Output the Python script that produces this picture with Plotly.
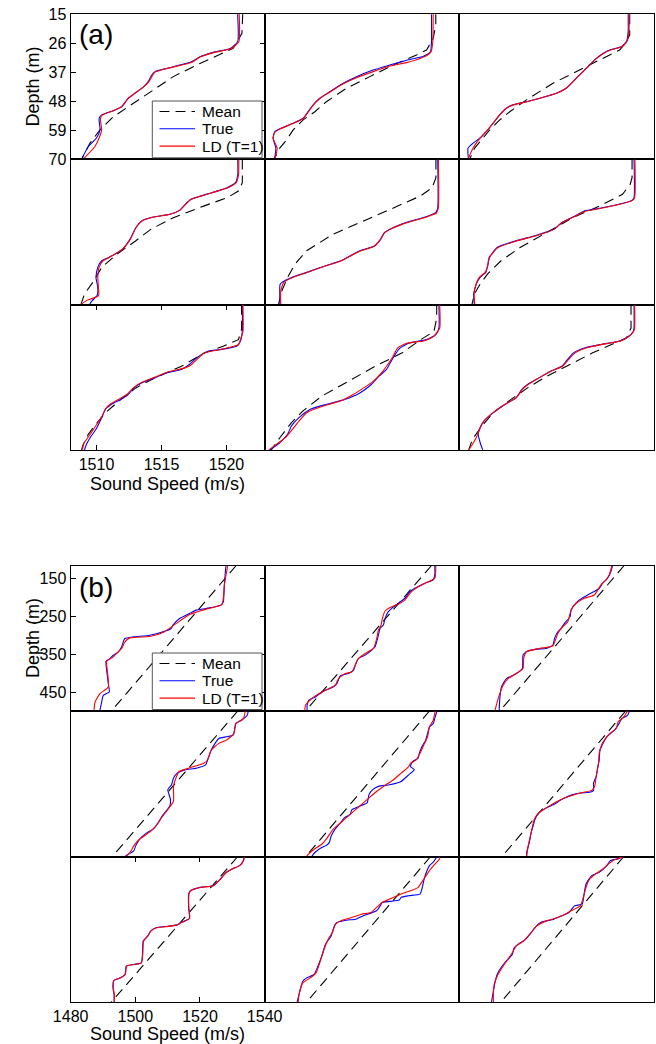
import plotly.graph_objects as go

# ---------------------------------------------------------------------------
# Sound-speed profiles, (depth [m], sound speed [m/s]) pairs.
# Part (a): shallow profiles, part (b): deep profiles; 3x3 panels each.
# ---------------------------------------------------------------------------

A_XTICKS = [1510, 1515, 1520]
A_YTICKS = [15, 26, 37, 48, 59, 70]
B_XTICKS = [1480, 1500, 1520, 1540]
B_YTICKS = [150, 250, 350, 450]
SERIES_NAMES = ["Mean", "True", "LD (T=1)"]

A1_MEAN = [(15, 1521.25), (22.3, 1521.19), (28.0, 1520.52), (33.7, 1517.96), (38.7, 1515.91), (46.3, 1513.6),
           (53.9, 1511.3), (58.9, 1510.27), (63.9, 1509.5), (70, 1508.86)]
A1_TRUE = [(15, 1520.86), (25.5, 1520.86), (28.0, 1520.3), (29.5, 1518.98), (31.2, 1517.96), (33.1, 1517.32),
           (35.6, 1515.4), (36.8, 1514.5), (38.1, 1514.25), (40.6, 1513.98), (42.7, 1513.6), (45.0, 1512.96),
           (46.9, 1512.45), (50.1, 1511.94), (51.6, 1511.3), (53.2, 1510.4), (54.5, 1510.2), (58.9, 1510.27),
           (62.0, 1510.0), (65.2, 1509.37), (70, 1508.86)]
A1_LD = [(15, 1520.98), (25.5, 1520.95), (28.0, 1520.35), (29.6, 1519.0), (31.3, 1517.96), (33.3, 1517.3),
         (35.7, 1515.35), (37.0, 1514.5), (38.3, 1514.3), (40.8, 1514.0), (42.9, 1513.55), (45.2, 1512.9),
         (47.1, 1512.4), (50.2, 1511.9), (51.7, 1511.25), (53.3, 1510.45), (54.6, 1510.3), (58.9, 1510.4),
         (62.0, 1510.2), (65.2, 1509.88), (70, 1508.98)]

A2_MEAN = [(15, 1521.15), (19.2, 1521.15), (24.2, 1520.95), (28.6, 1520.44), (30.5, 1519.67), (34.3, 1517.87),
           (38.7, 1516.08), (43.1, 1514.28), (48.2, 1512.74), (52.0, 1511.85), (55.1, 1510.95), (58.9, 1510.18),
           (62.7, 1509.67), (65.8, 1509.15), (70, 1508.72)]
A2_TRUE = [(15, 1520.82), (25.5, 1520.82), (29.3, 1520.74), (31.0, 1520.2), (32.5, 1518.9), (34.3, 1517.62),
           (36.2, 1516.33), (38.7, 1515.05), (41.2, 1514.03), (44.4, 1513.0), (46.9, 1512.23), (49.4, 1511.72),
           (52.0, 1511.33), (54.5, 1510.95), (56.4, 1510.18), (58.5, 1509.15), (59.5, 1508.77), (62.1, 1508.64),
           (65.8, 1508.85), (70, 1508.75)]
A2_LD = [(15, 1520.95), (25.5, 1520.92), (29.3, 1520.78), (31.4, 1520.15), (33.4, 1518.9), (34.7, 1517.62),
         (36.8, 1516.33), (39.1, 1515.05), (41.5, 1514.0), (44.6, 1513.0), (47.0, 1512.23), (49.5, 1511.72),
         (52.0, 1511.35), (54.6, 1510.95), (56.6, 1510.1), (58.7, 1509.1), (60.0, 1508.75), (62.1, 1508.64),
         (65.8, 1508.95), (70, 1508.77)]

A3_MEAN = [(15, 1521.12), (22.9, 1521.12), (25.5, 1520.86), (28.6, 1520.35), (33.0, 1518.55), (37.5, 1516.76),
           (41.2, 1515.22), (47.5, 1513.17), (52.0, 1511.89), (55.1, 1511.12), (58.9, 1510.35), (62.7, 1509.71),
           (65.8, 1509.19), (70, 1508.81)]
A3_TRUE = [(15, 1521.0), (21.7, 1521.0), (25.5, 1520.86), (27.4, 1520.47), (28.6, 1519.58), (29.9, 1519.06),
           (31.8, 1518.55), (34.3, 1518.04), (36.8, 1517.53), (39.3, 1517.01), (43.1, 1516.24), (45.0, 1515.48),
           (46.9, 1514.19), (48.2, 1513.17), (49.4, 1512.14), (50.7, 1511.63), (53.2, 1511.12), (56.4, 1510.6),
           (59.5, 1510.09), (62.1, 1509.58), (63.9, 1509.07), (65.8, 1508.68), (68.4, 1508.68), (70, 1508.72)]
A3_LD = [(15, 1521.08), (21.7, 1521.06), (25.5, 1520.9), (27.4, 1520.5), (28.7, 1519.6), (30.0, 1519.06),
         (31.9, 1518.55), (34.4, 1518.0), (36.9, 1517.5), (39.4, 1517.0), (43.2, 1516.2), (45.2, 1515.4),
         (47.0, 1514.15), (48.3, 1513.15), (49.5, 1512.1), (50.8, 1511.6), (53.3, 1511.1), (56.4, 1510.6),
         (59.5, 1510.09), (62.1, 1509.58), (65.8, 1509.07), (70, 1508.68)]

A4_MEAN = [(15, 1521.22), (23.8, 1521.22), (27.0, 1520.92), (29.5, 1520.05), (32.6, 1518.29), (37.0, 1515.95),
           (41.4, 1514.2), (45.8, 1513.03), (50.9, 1511.57), (55.9, 1510.4), (60.9, 1509.81), (66.0, 1509.08),
           (70, 1508.8)]
A4_TRUE = [(15, 1520.87), (20.7, 1520.87), (23.8, 1520.69), (25.7, 1520.05), (27.6, 1518.88), (30.1, 1517.27),
           (32.0, 1516.83), (34.3, 1516.39), (35.8, 1515.66), (37.0, 1514.2), (38.3, 1513.47), (40.8, 1513.03),
           (45.2, 1512.59), (49.0, 1512.0), (52.1, 1510.98), (53.4, 1510.4), (55.9, 1510.1), (59.7, 1509.96),
           (63.5, 1510.1), (66.6, 1510.05), (68.5, 1509.67), (70, 1509.46)]
A4_LD = [(15, 1520.95), (20.7, 1520.93), (23.8, 1520.75), (25.7, 1520.1), (27.6, 1518.9), (30.1, 1517.3),
         (32.0, 1516.85), (34.3, 1516.4), (35.8, 1515.66), (37.0, 1514.25), (38.3, 1513.5), (40.8, 1513.05),
         (45.2, 1512.6), (49.0, 1512.0), (52.1, 1511.0), (53.4, 1510.5), (55.9, 1510.2), (59.7, 1510.1),
         (63.5, 1510.15), (66.6, 1510.16), (68.5, 1509.23), (70, 1508.79)]

A5_MEAN = [(15, 1521.16), (21.9, 1521.16), (25.7, 1520.87), (28.8, 1519.99), (33.9, 1517.65), (38.3, 1515.6),
           (43.3, 1513.26), (49.6, 1511.22), (54.6, 1510.34), (59.7, 1509.75), (64.7, 1509.32), (70, 1509.05)]
A5_TRUE = [(15, 1521.3), (33.3, 1521.3), (35.1, 1521.16), (36.4, 1520.57), (39.5, 1518.53), (41.4, 1517.65),
           (42.7, 1517.21), (45.2, 1516.92), (47.7, 1516.48), (49.6, 1515.31), (53.4, 1513.85), (55.3, 1512.68),
           (57.8, 1511.22), (59.7, 1510.05), (61.6, 1509.32), (62.5, 1509.17), (70, 1509.17)]
A5_LD = [(15, 1521.35), (33.3, 1521.35), (35.3, 1521.2), (36.6, 1520.55), (39.7, 1518.5), (41.6, 1517.6),
         (43.0, 1517.15), (45.4, 1516.88), (47.9, 1516.4), (49.9, 1515.25), (53.6, 1513.8), (55.5, 1512.6),
         (58.0, 1511.15), (59.9, 1510.05), (61.6, 1509.46), (64.7, 1509.23), (70, 1509.23)]

A6_MEAN = [(15, 1521.3), (21.9, 1521.3), (24.4, 1521.16), (28.2, 1520.57), (32.6, 1518.82), (37.0, 1516.77),
           (42.7, 1514.73), (48.4, 1512.68), (53.4, 1511.22), (58.4, 1510.19), (62.2, 1509.61), (66.0, 1509.17),
           (70, 1508.98)]
A6_TRUE = [(15, 1521.45), (29.5, 1521.45), (30.5, 1521.3), (32.0, 1520.28), (33.5, 1518.82), (34.5, 1517.65),
           (36.4, 1516.92), (38.9, 1515.9), (41.4, 1515.31), (43.9, 1513.85), (45.8, 1512.39), (48.4, 1510.92),
           (52.1, 1510.34), (55.3, 1510.19), (57.8, 1510.05), (59.7, 1509.61), (62.2, 1509.32), (66.0, 1509.11),
           (70, 1509.17)]
A6_LD = [(15, 1521.52), (29.5, 1521.5), (30.6, 1521.3), (32.2, 1520.2), (33.7, 1518.75), (34.8, 1517.6),
         (36.6, 1516.9), (39.0, 1515.9), (41.5, 1515.3), (44.0, 1513.85), (45.9, 1512.4), (48.5, 1510.95),
         (52.2, 1510.3), (55.3, 1510.19), (57.8, 1510.0), (59.7, 1509.55), (62.2, 1509.3), (66.0, 1509.15),
         (70, 1509.2)]

A7_MEAN = [(15, 1521.16), (24.4, 1521.16), (28.2, 1520.92), (30.7, 1519.75), (33.3, 1518.29), (38.3, 1516.54),
           (42.7, 1514.49), (46.5, 1513.03), (50.9, 1511.86), (55.9, 1510.69), (60.3, 1509.96), (64.1, 1509.37),
           (67.9, 1508.99), (70, 1508.85)]
A7_TRUE = [(15, 1521.22), (25.1, 1521.22), (28.8, 1521.07), (30.7, 1520.78), (32.0, 1519.46), (32.6, 1518.58),
           (35.1, 1517.71), (37.7, 1517.12), (39.5, 1516.54), (40.8, 1515.37), (42.7, 1514.49), (44.6, 1513.47),
           (46.5, 1512.88), (49.0, 1512.44), (50.9, 1511.86), (52.8, 1511.13), (54.6, 1510.69), (57.8, 1510.4),
           (62.2, 1509.96), (65.3, 1509.52), (67.9, 1509.23), (70, 1509.08)]
A7_LD = [(15, 1521.27), (25.1, 1521.27), (28.2, 1521.07), (30.1, 1520.92), (32.0, 1519.46), (33.3, 1518.29),
         (35.8, 1517.71), (37.7, 1517.3), (38.9, 1516.8), (40.5, 1515.5), (42.4, 1514.5), (44.4, 1513.5),
         (46.3, 1512.88), (48.7, 1512.4), (50.6, 1511.8), (52.5, 1511.1), (54.4, 1510.7), (57.5, 1510.4),
         (59.7, 1510.1), (64.1, 1509.52), (67.9, 1508.99), (70, 1508.94)]

A8_MEAN = [(15, 1521.22), (20.0, 1521.22), (25.1, 1521.01), (28.2, 1519.99), (33.3, 1518.53), (38.3, 1516.48),
           (44.0, 1514.43), (49.6, 1512.39), (55.3, 1510.92), (59.7, 1510.05), (65.3, 1509.17), (70, 1508.5)]
A8_TRUE = [(15, 1521.39), (23.8, 1521.39), (26.3, 1521.16), (28.2, 1520.43), (29.5, 1519.11), (31.4, 1518.38),
           (34.5, 1517.94), (37.0, 1517.65), (39.5, 1517.36), (42.1, 1516.77), (45.2, 1516.19), (48.4, 1515.31),
           (50.9, 1514.14), (52.8, 1512.68), (54.6, 1511.51), (57.8, 1510.63), (60.9, 1510.05), (64.1, 1509.75),
           (67.2, 1509.17), (70, 1508.4)]
A8_LD = [(15, 1521.45), (23.8, 1521.45), (26.9, 1521.0), (28.6, 1520.28), (29.5, 1518.97), (31.4, 1518.2),
         (35.1, 1517.8), (38.3, 1517.36), (40.2, 1517.07), (44.0, 1516.33), (46.5, 1515.6), (49.0, 1514.8),
         (51.5, 1513.8), (53.4, 1512.5), (55.9, 1511.22), (59.1, 1510.63), (65.3, 1509.6), (67.9, 1508.9),
         (70, 1508.3)]

A9_MEAN = [(15, 1521.22), (23.8, 1521.22), (27.6, 1520.87), (30.1, 1519.7), (33.3, 1518.23), (37.7, 1516.48),
           (42.1, 1514.73), (46.5, 1513.26), (51.5, 1511.8), (55.9, 1510.63), (60.9, 1509.75), (66.0, 1509.02),
           (70, 1508.73)]
A9_TRUE = [(15, 1521.45), (23.8, 1521.45), (25.1, 1521.39), (27.0, 1521.01), (28.8, 1520.28), (30.1, 1518.82),
           (31.4, 1517.65), (33.3, 1516.77), (35.8, 1516.33), (38.3, 1515.9), (40.2, 1515.02), (42.7, 1514.14),
           (45.2, 1513.26), (47.1, 1512.82), (50.2, 1512.39), (52.8, 1511.51), (55.9, 1510.63), (59.1, 1509.9),
           (61.6, 1509.61), (64.1, 1509.46), (67.2, 1509.61), (70, 1509.81)]
A9_LD = [(15, 1521.5), (23.8, 1521.5), (25.1, 1521.42), (27.0, 1521.05), (28.8, 1520.35), (30.1, 1518.9),
         (31.4, 1517.75), (33.3, 1516.9), (35.8, 1516.4), (38.3, 1515.95), (40.2, 1515.05), (42.7, 1514.15),
         (45.2, 1513.3), (47.1, 1512.85), (50.2, 1512.4), (52.8, 1511.5), (55.9, 1510.6), (59.1, 1509.9),
         (61.6, 1509.61), (65.3, 1509.32), (67.9, 1509.02), (70, 1508.73)]

B1_MEAN = [(117, 1531.2), (291, 1513.6), (499, 1492.6)]
B1_TRUE = [(117, 1528.05), (133.3, 1527.85), (168.4, 1527.54), (212.3, 1527.23), (221.0, 1526.52), (229.8, 1521.9),
           (234.2, 1518.82), (243.0, 1516.77), (256.1, 1513.7), (273.7, 1511.64), (282.4, 1511.13), (291.2, 1508.57),
           (300.0, 1504.47), (304.4, 1499.34), (308.7, 1496.77), (317.5, 1496.26), (330.7, 1495.75), (343.8, 1494.72),
           (352.6, 1493.18), (361.4, 1492.16), (368.4, 1490.92), (392.0, 1491.13), (427.1, 1491.64), (449.1, 1491.95),
           (457.8, 1490.1), (475.4, 1489.59), (499, 1489.0)]
B1_LD = [(117, 1528.57), (168.4, 1527.54), (219.3, 1526.8), (231.6, 1521.9), (245.6, 1516.77), (275.4, 1511.64),
         (293.0, 1508.57), (303.5, 1504.47), (307.0, 1498.31), (317.5, 1496.77), (335.0, 1495.75), (348.2, 1494.21),
         (357.0, 1493.18), (368.4, 1491.13), (392.0, 1491.33), (435.9, 1491.64), (453.4, 1489.08), (475.4, 1487.54),
         (499, 1487.2)]

B2_MEAN = [(117, 1531.49), (499, 1492.51)]
B2_TRUE = [(117, 1532.51), (141.6, 1532.51), (154.8, 1532.0), (163.5, 1529.44), (176.7, 1526.36), (185.5, 1524.82),
           (203.0, 1523.28), (216.2, 1521.23), (229.4, 1519.18), (238.2, 1518.15), (255.7, 1517.13), (273.3, 1516.62),
           (282.1, 1515.59), (299.6, 1515.08), (330.4, 1514.05), (339.1, 1513.03), (352.3, 1510.97), (361.1, 1508.92),
           (374.3, 1508.1), (391.8, 1507.38), (400.6, 1505.85), (406.7, 1503.28), (426.9, 1502.26), (435.7, 1501.23),
           (448.9, 1497.64), (462.0, 1495.59), (470.8, 1493.54), (484.0, 1493.03), (499, 1493.03)]
B2_LD = [(117, 1532.82), (150.4, 1532.51), (163.5, 1529.44), (178.5, 1526.36), (189.9, 1524.82), (207.4, 1523.28),
         (218.8, 1521.23), (225.0, 1519.18), (236.4, 1517.13), (255.7, 1516.31), (273.3, 1515.9), (286.5, 1515.08),
         (308.4, 1514.56), (334.7, 1513.54), (347.9, 1510.97), (361.1, 1508.92), (378.6, 1507.9), (396.2, 1506.87),
         (400.6, 1504.82), (413.8, 1502.77), (431.3, 1501.74), (444.5, 1498.67), (459.4, 1495.59), (473.5, 1493.54),
         (484.0, 1492.51), (499, 1492.31)]

B3_MEAN = [(117, 1530.97), (499, 1492.51)]
B3_TRUE = [(117, 1527.38), (132.8, 1526.87), (150.4, 1525.85), (163.5, 1524.31), (176.7, 1523.28), (185.5, 1521.74),
           (194.3, 1519.69), (207.4, 1517.13), (220.6, 1515.59), (233.8, 1514.56), (251.3, 1514.26), (268.9, 1512.51),
           (282.1, 1511.49), (290.8, 1510.46), (308.4, 1509.44), (326.0, 1508.92), (334.7, 1506.87), (336.5, 1503.79),
           (343.5, 1500.72), (352.3, 1499.69), (387.4, 1499.49), (400.6, 1497.64), (413.8, 1494.56), (435.7, 1493.03),
           (466.4, 1492.51), (499, 1492.31)]
B3_LD = [(117, 1527.18), (141.6, 1526.36), (154.8, 1525.33), (167.9, 1523.79), (194.3, 1521.74), (203.0, 1518.67),
         (216.2, 1516.1), (233.8, 1514.56), (264.5, 1513.54), (277.7, 1512.0), (295.2, 1510.46), (327.7, 1508.92),
         (334.7, 1504.82), (343.5, 1500.72), (361.1, 1499.9), (387.4, 1499.69), (400.6, 1497.64), (413.8, 1495.08),
         (431.3, 1493.54), (466.4, 1492.0), (499, 1490.97)]

B4_MEAN = [(117, 1531.68), (499, 1492.9)]
B4_TRUE = [(117, 1534.95), (128.3, 1534.6), (141.3, 1532.85), (150.0, 1531.09), (180.4, 1530.27), (184.7, 1528.17),
           (189.0, 1525.83), (202.1, 1524.66), (219.4, 1523.49), (241.1, 1522.56), (258.5, 1521.74), (267.2, 1518.82),
           (271.5, 1515.31), (280.2, 1512.97), (293.2, 1511.8), (310.6, 1511.22), (323.6, 1510.05), (349.6, 1510.87),
           (367.0, 1510.63), (393.0, 1508.29), (410.4, 1507.13), (427.7, 1505.37), (436.4, 1503.62), (453.8, 1501.28),
           (471.1, 1500.11), (484.2, 1499.53), (492.8, 1497.77), (499, 1496.84)]
B4_LD = [(117, 1534.02), (137.0, 1533.43), (150.0, 1531.09), (176.0, 1530.51), (193.4, 1528.17), (202.1, 1525.83),
         (219.4, 1523.49), (245.5, 1522.32), (254.1, 1521.16), (267.2, 1516.48), (275.8, 1513.56), (288.9, 1512.74),
         (314.9, 1511.8), (354.0, 1511.8), (375.7, 1510.05), (401.7, 1507.71), (423.4, 1505.96), (436.4, 1504.2),
         (453.8, 1501.28), (471.1, 1499.53), (488.5, 1498.36), (499, 1497.19)]

B5_MEAN = [(117, 1530.86), (499, 1492.63)]
B5_TRUE = [(117, 1533.2), (132.6, 1532.61), (150.0, 1532.03), (158.7, 1530.86), (176.0, 1530.27), (193.4, 1529.69),
           (210.7, 1528.52), (228.1, 1527.7), (241.1, 1527.35), (249.8, 1525.6), (262.8, 1525.01), (271.5, 1526.18),
           (284.5, 1524.43), (301.9, 1522.09), (310.6, 1518.58), (314.9, 1515.08), (323.6, 1513.32), (336.6, 1512.15),
           (358.3, 1511.57), (367.0, 1509.23), (375.7, 1506.89), (388.7, 1506.31), (397.4, 1504.55), (410.4, 1503.38),
           (427.7, 1501.63), (445.1, 1500.46), (462.5, 1499.88), (471.1, 1498.71), (475.5, 1497.54), (488.5, 1495.43),
           (497.2, 1494.61), (499, 1494.5)]
B5_LD = [(117, 1532.61), (141.3, 1532.03), (158.7, 1530.86), (184.7, 1530.27), (206.4, 1529.11), (228.1, 1527.94),
         (245.5, 1526.77), (254.1, 1525.01), (262.8, 1524.43), (280.2, 1522.09), (297.5, 1519.75), (310.6, 1517.41),
         (332.3, 1513.91), (349.6, 1511.57), (367.0, 1509.23), (393.0, 1505.72), (410.4, 1503.38), (427.7, 1501.05),
         (449.4, 1499.29), (466.8, 1497.54), (479.8, 1495.2), (492.8, 1493.45), (499, 1492.86)]

B6_MEAN = [(117, 1531.44), (499, 1493.2)]
B6_TRUE = [(117, 1532.61), (128.3, 1532.03), (137.0, 1530.27), (154.3, 1529.11), (167.3, 1527.94), (176.0, 1526.77),
           (184.7, 1525.6), (202.1, 1524.43), (219.4, 1523.49), (245.5, 1523.26), (271.5, 1522.67), (288.9, 1522.32),
           (306.2, 1521.51), (325.3, 1521.51), (330.5, 1520.34), (332.3, 1517.41), (336.6, 1515.08), (349.6, 1511.57),
           (362.6, 1509.23), (371.3, 1506.89), (384.3, 1504.55), (401.7, 1503.38), (419.1, 1502.8), (436.4, 1502.21),
           (462.5, 1501.63), (488.5, 1500.81), (499, 1500.81)]
B6_LD = [(117, 1532.03), (132.6, 1530.86), (145.6, 1529.11), (163.0, 1528.52), (174.3, 1526.77), (184.7, 1525.6),
         (202.1, 1524.2), (228.1, 1523.26), (254.1, 1523.03), (288.9, 1522.32), (314.9, 1521.86), (325.3, 1520.92),
         (332.3, 1517.41), (341.0, 1513.91), (354.0, 1510.4), (371.3, 1506.89), (384.3, 1504.55), (401.7, 1503.15),
         (436.4, 1502.21), (471.1, 1501.28), (499, 1500.81)]

B7_MEAN = [(117, 1531.68), (499, 1492.6)]
B7_TRUE = [(117, 1533.67), (127.6, 1533.43), (140.8, 1532.26), (149.6, 1529.92), (158.4, 1528.17), (180.4, 1525.83),
           (193.6, 1524.08), (198.0, 1519.99), (206.8, 1517.06), (215.6, 1516.48), (250.8, 1516.48), (279.8, 1516.71),
           (290.4, 1514.14), (296.5, 1512.97), (300.9, 1509.46), (303.6, 1506.54), (312.4, 1504.79), (325.6, 1503.85),
           (338.8, 1502.45), (374.0, 1502.21), (396.0, 1501.86), (400.4, 1499.53), (404.8, 1497.19), (426.8, 1496.84),
           (435.6, 1495.43), (442.6, 1493.33), (462.0, 1493.09), (479.6, 1493.45), (499, 1493.45)]
B7_LD = [(117, 1533.75), (127.6, 1533.5), (140.8, 1532.3), (149.6, 1530.0), (158.4, 1528.2), (180.4, 1525.9),
         (193.6, 1524.1), (198.5, 1520.0), (207.0, 1517.1), (215.6, 1516.6), (250.8, 1516.55), (279.8, 1516.8),
         (290.4, 1514.2), (296.5, 1513.0), (301.2, 1509.5), (303.8, 1506.6), (312.4, 1504.85), (325.6, 1503.9),
         (338.8, 1502.55), (374.0, 1502.3), (396.0, 1501.9), (400.6, 1499.6), (404.8, 1497.3), (426.8, 1496.9),
         (435.6, 1495.5), (442.6, 1493.4), (462.0, 1493.2), (479.6, 1493.5), (499, 1493.5)]

B8_MEAN = [(117, 1531.21), (499, 1492.9)]
B8_TRUE = [(117, 1533.2), (132.0, 1532.03), (140.8, 1530.86), (162.8, 1529.69), (180.4, 1529.11), (202.4, 1528.52),
           (215.6, 1527.94), (220.0, 1524.43), (224.4, 1522.09), (231.4, 1521.51), (234.9, 1518.58), (237.6, 1516.24),
           (246.4, 1515.66), (259.6, 1514.49), (272.8, 1510.4), (281.6, 1508.06), (284.2, 1505.14), (290.4, 1502.21),
           (303.6, 1501.28), (325.6, 1500.46), (347.6, 1498.71), (378.4, 1497.54), (404.8, 1496.37), (426.8, 1495.2),
           (435.6, 1492.86), (444.4, 1491.69), (479.6, 1490.52), (499, 1489.94)]
B8_LD = [(117, 1533.9), (123.2, 1534.02), (136.4, 1532.61), (154.0, 1530.86), (176.0, 1529.11), (198.0, 1527.35),
         (205.0, 1525.6), (215.6, 1522.09), (228.8, 1518.58), (237.6, 1516.24), (250.8, 1514.49), (264.0, 1512.74),
         (268.4, 1509.81), (277.2, 1506.89), (286.0, 1503.38), (296.5, 1501.63), (312.4, 1501.05), (338.8, 1499.29),
         (365.2, 1498.12), (396.0, 1496.95), (422.4, 1495.78), (435.6, 1494.03), (448.8, 1491.69), (479.6, 1490.52),
         (499, 1490.29)]

B9_MEAN = [(117, 1530.86), (499, 1492.9)]
B9_TRUE = [(117, 1530.86), (123.2, 1529.11), (127.6, 1526.77), (140.8, 1525.6), (158.4, 1523.26), (167.2, 1520.92),
           (189.2, 1519.17), (215.6, 1518.58), (242.0, 1518.0), (246.4, 1515.66), (264.0, 1513.91), (272.8, 1511.57),
           (281.6, 1509.23), (290.4, 1505.14), (303.6, 1503.38), (316.8, 1502.21), (334.4, 1500.46), (347.6, 1498.12),
           (356.4, 1496.95), (374.0, 1496.37), (396.0, 1494.03), (409.2, 1492.86), (426.8, 1491.69), (444.4, 1491.11),
           (470.8, 1490.52), (499, 1489.94)]
B9_LD = [(117, 1530.86), (125.8, 1527.94), (136.4, 1526.18), (149.6, 1524.43), (162.8, 1522.09), (176.0, 1520.34),
         (198.0, 1519.17), (224.4, 1518.35), (246.4, 1517.41), (259.6, 1514.49), (268.4, 1512.74), (277.2, 1510.4),
         (286.0, 1506.89), (299.2, 1503.97), (316.8, 1502.21), (338.8, 1499.88), (352.0, 1497.54), (369.6, 1496.37),
         (391.6, 1494.61), (413.6, 1492.86), (431.2, 1491.69), (453.2, 1490.76), (479.6, 1490.52), (499, 1490.52)]

PANELS_A = [(A1_MEAN, A1_TRUE, A1_LD), (A2_MEAN, A2_TRUE, A2_LD), (A3_MEAN, A3_TRUE, A3_LD),
            (A4_MEAN, A4_TRUE, A4_LD), (A5_MEAN, A5_TRUE, A5_LD), (A6_MEAN, A6_TRUE, A6_LD),
            (A7_MEAN, A7_TRUE, A7_LD), (A8_MEAN, A8_TRUE, A8_LD), (A9_MEAN, A9_TRUE, A9_LD)]
PANELS_B = [(B1_MEAN, B1_TRUE, B1_LD), (B2_MEAN, B2_TRUE, B2_LD), (B3_MEAN, B3_TRUE, B3_LD),
            (B4_MEAN, B4_TRUE, B4_LD), (B5_MEAN, B5_TRUE, B5_LD), (B6_MEAN, B6_TRUE, B6_LD),
            (B7_MEAN, B7_TRUE, B7_LD), (B8_MEAN, B8_TRUE, B8_LD), (B9_MEAN, B9_TRUE, B9_LD)]

# ---------------------------------------------------------------------------
# Layout (pixel grid of the two 3x3 blocks)
# ---------------------------------------------------------------------------
W, H = 656, 1044
FONT = "Liberation Sans, Arial, Helvetica, sans-serif"
COLS = [70.5, 264.8, 459.2, 653.5]
PARTS = [
    dict(key="a", panels=PANELS_A, rows=[14, 159.3, 304.7, 450], xrange=[1508, 1522.95],
         yrange=[70.05, 14.95], xticks=A_XTICKS, yticks=A_YTICKS,
         label_y=35, ytitle_y=86.5, xtitle_y=484, legend_top=101),
    dict(key="b", panels=PANELS_B, rows=[565.5, 711, 856.5, 1002], xrange=[1479.95, 1540.05],
         yrange=[499, 117], xticks=B_XTICKS, yticks=B_YTICKS,
         label_y=587, ytitle_y=638, xtitle_y=1033.5, legend_top=653),
]

LINE_STYLES = [
    dict(color="black", width=1.1, dash="10px,6px"),
    dict(color="#0000ff", width=1.1, shape="spline", smoothing=0.5),
    dict(color="#ff0000", width=1.1, shape="spline", smoothing=0.5),
]


def px_x(v):
    return v / W


def px_y(v):
    return 1 - v / H


fig = go.Figure()
layout = {}
shapes = []
annotations = []
n = 0
for part in PARTS:
    rows = part["rows"]
    for k, curves in enumerate(part["panels"]):
        n += 1
        r, c = divmod(k, 3)
        sfx = "" if n == 1 else str(n)
        for name, line, prof in zip(SERIES_NAMES, LINE_STYLES, curves):
            fig.add_trace(go.Scatter(
                x=[p[1] for p in prof], y=[p[0] for p in prof], mode="lines", name=name, line=line,
                xaxis="x" + sfx, yaxis="y" + sfx, showlegend=False, hoverinfo="skip"))
        has_x = (r == 2 and c == 0)
        has_y = (r == 0 and c == 0)
        common = dict(showgrid=False, zeroline=False, showline=True, linecolor="black", linewidth=1,
                      automargin=False, ticklen=5, tickcolor="black", tickmode="array",
                      tickfont=dict(size=16, color="black", family=FONT))
        layout["xaxis" + sfx] = dict(
            domain=[px_x(COLS[c]), px_x(COLS[c + 1])], range=part["xrange"], anchor="y" + sfx,
            mirror="ticks" if has_x else True, ticks="inside" if has_x else "",
            tickvals=part["xticks"] if has_x else [], showticklabels=has_x, **common)
        layout["yaxis" + sfx] = dict(
            domain=[px_y(rows[r + 1]), px_y(rows[r])], range=part["yrange"], anchor="x" + sfx,
            mirror="ticks" if has_y else True, ticks="inside" if has_y else "",
            tickvals=part["yticks"] if has_y else [], showticklabels=has_y, **common)

    # panel label and axis titles
    annotations.append(dict(text="(" + part["key"] + ")", x=px_x(77), y=px_y(part["label_y"]),
                            xref="paper", yref="paper", xanchor="left", yanchor="middle",
                            showarrow=False, font=dict(size=28, color="black", family=FONT)))
    annotations.append(dict(text="Depth (m)", x=px_x(33), y=px_y(part["ytitle_y"]),
                            xref="paper", yref="paper", xanchor="center", yanchor="middle",
                            textangle=-90, showarrow=False, font=dict(size=18, color="black", family=FONT)))
    annotations.append(dict(text="Sound Speed (m/s)", x=px_x(167.7), y=px_y(part["xtitle_y"]),
                            xref="paper", yref="paper", xanchor="center", yanchor="middle",
                            showarrow=False, font=dict(size=18, color="black", family=FONT)))

    # legend box inside the top-left panel
    top = part["legend_top"]
    bottom = rows[1] - 1.5
    shapes.append(dict(type="rect", xref="paper", yref="paper", x0=px_x(152.3), x1=px_x(262),
                       y0=px_y(bottom), y1=px_y(top), fillcolor="white",
                       line=dict(color="#555555", width=1), layer="above"))
    for i, (name, line) in enumerate(zip(SERIES_NAMES, LINE_STYLES)):
        yc = top + 10.5 + i * 17.3
        shapes.append(dict(type="line", xref="paper", yref="paper", x0=px_x(159.5), x1=px_x(195),
                           y0=px_y(yc), y1=px_y(yc), layer="above",
                           line=dict(color=line["color"], width=1.1, dash=line.get("dash", "solid"))))
        annotations.append(dict(text=name, x=px_x(199.5), y=px_y(yc), xref="paper", yref="paper",
                                xanchor="left", yanchor="middle", showarrow=False,
                                font=dict(size=15.5, color="black", family=FONT)))

fig.update_layout(
    template="none",
    width=W, height=H, margin=dict(l=0, r=0, t=0, b=0, autoexpand=False),
    paper_bgcolor="white", plot_bgcolor="white",
    font=dict(family=FONT, color="black"),
    showlegend=False,
    shapes=shapes,
    annotations=annotations,
    **layout,
)

fig.write_html("out.html")
